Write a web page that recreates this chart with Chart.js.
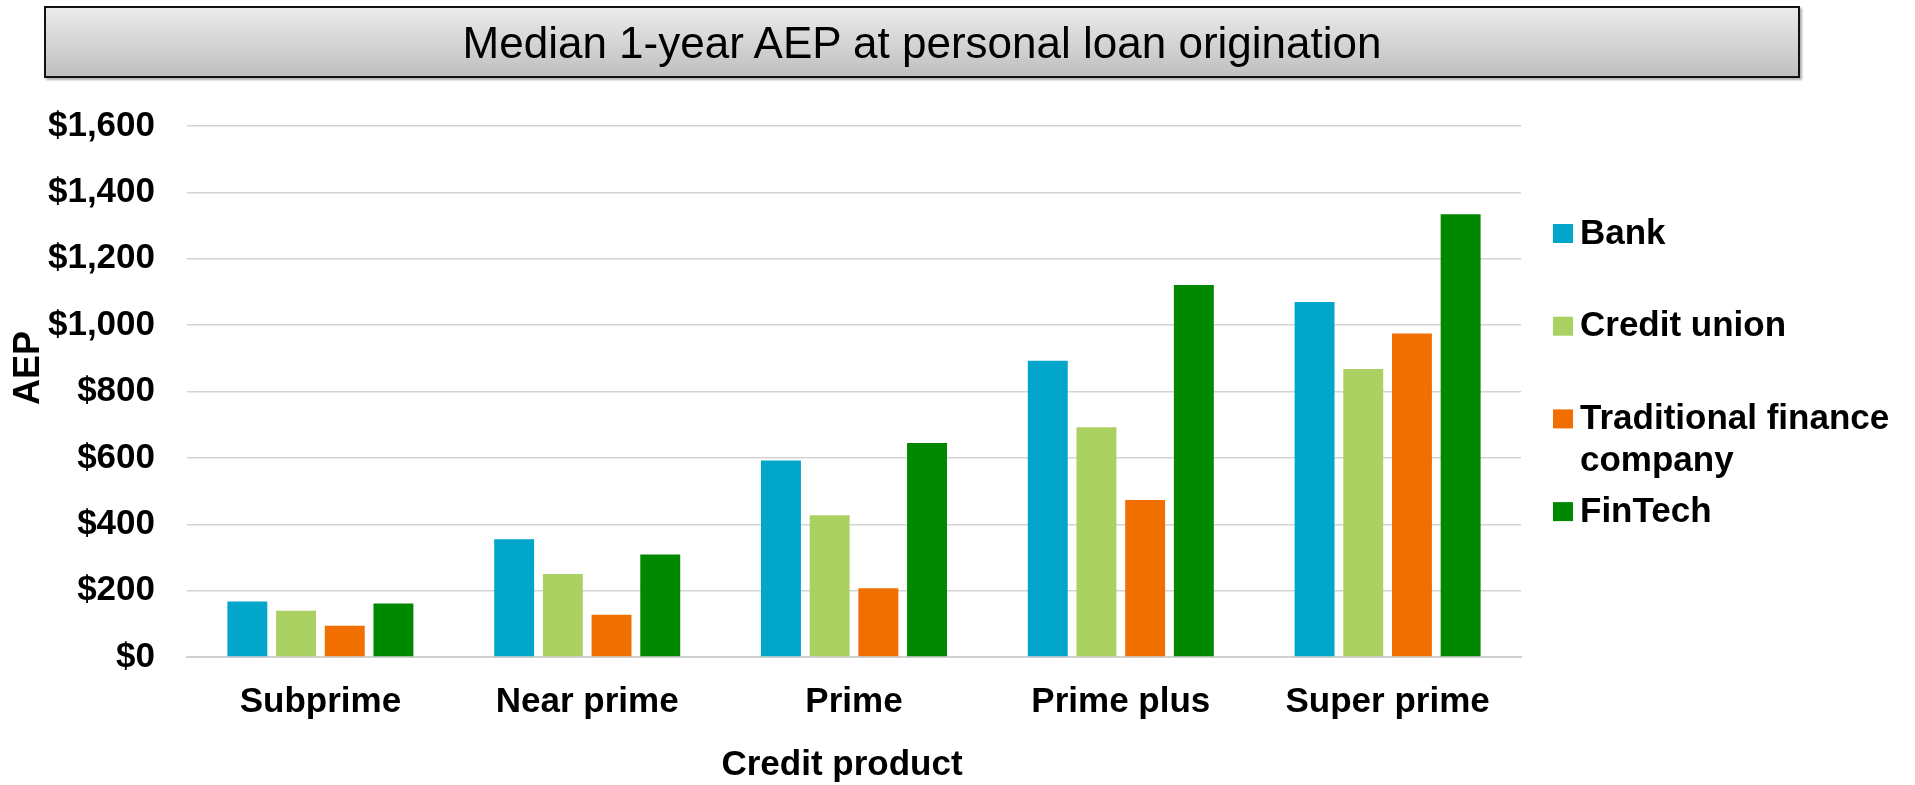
<!DOCTYPE html>
<html>
<head>
<meta charset="utf-8">
<title>Median 1-year AEP at personal loan origination</title>
<script src="https://cdn.jsdelivr.net/npm/chart.js@4.4.1/dist/chart.umd.min.js"></script>
<style>
  html, body { margin: 0; padding: 0; background: #fff; }
  #wrap { position: relative; width: 1915px; height: 785px; }
  #heading {
    position: absolute; left: 44px; top: 6px; width: 1752px; height: 68px;
    border: 2px solid #111;
    background: linear-gradient(#ebebeb, #bfbfbf);
    box-shadow: 2px 2px 2px #b0b0b0;
    font: 44px "Liberation Sans", Arial, sans-serif;
    color: #000; text-align: center; line-height: 70px;
  }
  canvas { position: absolute; left: 0; top: 0; }
</style>
</head>
<body>
<div id="wrap">
  <canvas id="aepChart" width="1915" height="785"></canvas>
  <div id="heading">Median 1-year AEP at personal loan origination</div>
</div>
<script>
// credit tiers along the x axis
const categories = ['Subprime', 'Near prime', 'Prime', 'Prime plus', 'Super prime'];

// median AEP per lender type, in dollars
const bank = [167, 355, 592, 893, 1070];
const creditUnion = [139, 250, 427, 692, 868];
const traditionalFinance = [94, 127, 207, 473, 975];
const finTech = [161, 309, 645, 1121, 1334];

const yTickLabels = ['$0', '$200', '$400', '$600', '$800', '$1,000', '$1,200', '$1,400', '$1,600'];

const FONT = '"Liberation Sans", Arial, sans-serif';

// legend on the right plus the two axis titles
const sideText = {
  id: 'sideText',
  afterDraw(chart) {
    const ctx = chart.ctx;
    const area = chart.chartArea;
    ctx.save();
    ctx.fillStyle = '#000';
    ctx.font = 'bold 35px ' + FONT;

    // x axis title
    ctx.textAlign = 'center';
    ctx.textBaseline = 'middle';
    ctx.fillText('Credit product', 842, 765);

    // y axis title
    ctx.save();
    ctx.translate(29, 368);
    ctx.rotate(-Math.PI / 2);
    ctx.font = 'bold 36px ' + FONT;
    ctx.fillText('AEP', 0, 0);
    ctx.restore();

    // legend
    const boxX = area.right + 32;
    const textX = boxX + 27;
    const maxW = chart.width - textX - 4;
    ctx.textAlign = 'left';
    chart.data.datasets.forEach((ds, i) => {
      const y = 234 + i * 92.7;
      ctx.fillStyle = ds.backgroundColor;
      ctx.fillRect(boxX, y - 10, 20, 19);
      ctx.fillStyle = '#000';
      const words = ds.label.split(' ');
      const lines = [];
      let line = '';
      words.forEach(w => {
        const test = line ? line + ' ' + w : w;
        if (line && ctx.measureText(test).width > maxW) {
          lines.push(line);
          line = w;
        } else {
          line = test;
        }
      });
      lines.push(line);
      lines.forEach((l, k) => ctx.fillText(l, textX, y + k * 42));
    });
    ctx.restore();
  }
};

new Chart(document.getElementById('aepChart'), {
  type: 'bar',
  data: {
    labels: categories,
    datasets: [
      { label: 'Bank', data: bank, backgroundColor: '#02A6CB' },
      { label: 'Credit union', data: creditUnion, backgroundColor: '#AAD162' },
      { label: 'Traditional finance company', data: traditionalFinance, backgroundColor: '#F06F00' },
      { label: 'FinTech', data: finTech, backgroundColor: '#008800' }
    ]
  },
  options: {
    responsive: false,
    animation: false,
    layout: { padding: { top: 126, right: 394, left: 0, bottom: 0 } },
    datasets: {
      bar: { categoryPercentage: 0.73, barPercentage: 0.82 }
    },
    plugins: {
      legend: { display: false },
      title: { display: false },
      tooltip: { enabled: false }
    },
    scales: {
      x: {
        grid: { display: false },
        border: { display: true, color: '#d0d0d0', width: 2 },
        ticks: { color: '#000', padding: 16, font: { family: FONT, size: 35, weight: 'bold' } },
        afterFit(scale) { scale.height = 128; }
      },
      y: {
        min: 0,
        max: 1600,
        ticks: {
          stepSize: 200,
          color: '#000',
          padding: 32,
          font: { family: FONT, size: 35, weight: 'bold' },
          callback: (value, index) => yTickLabels[index]
        },
        grid: { color: '#d3d3d3', lineWidth: 1.5, drawTicks: false },
        border: { display: false },
        afterFit(scale) { scale.width = 187; }
      }
    }
  },
  plugins: [sideText]
});
</script>
</body>
</html>
